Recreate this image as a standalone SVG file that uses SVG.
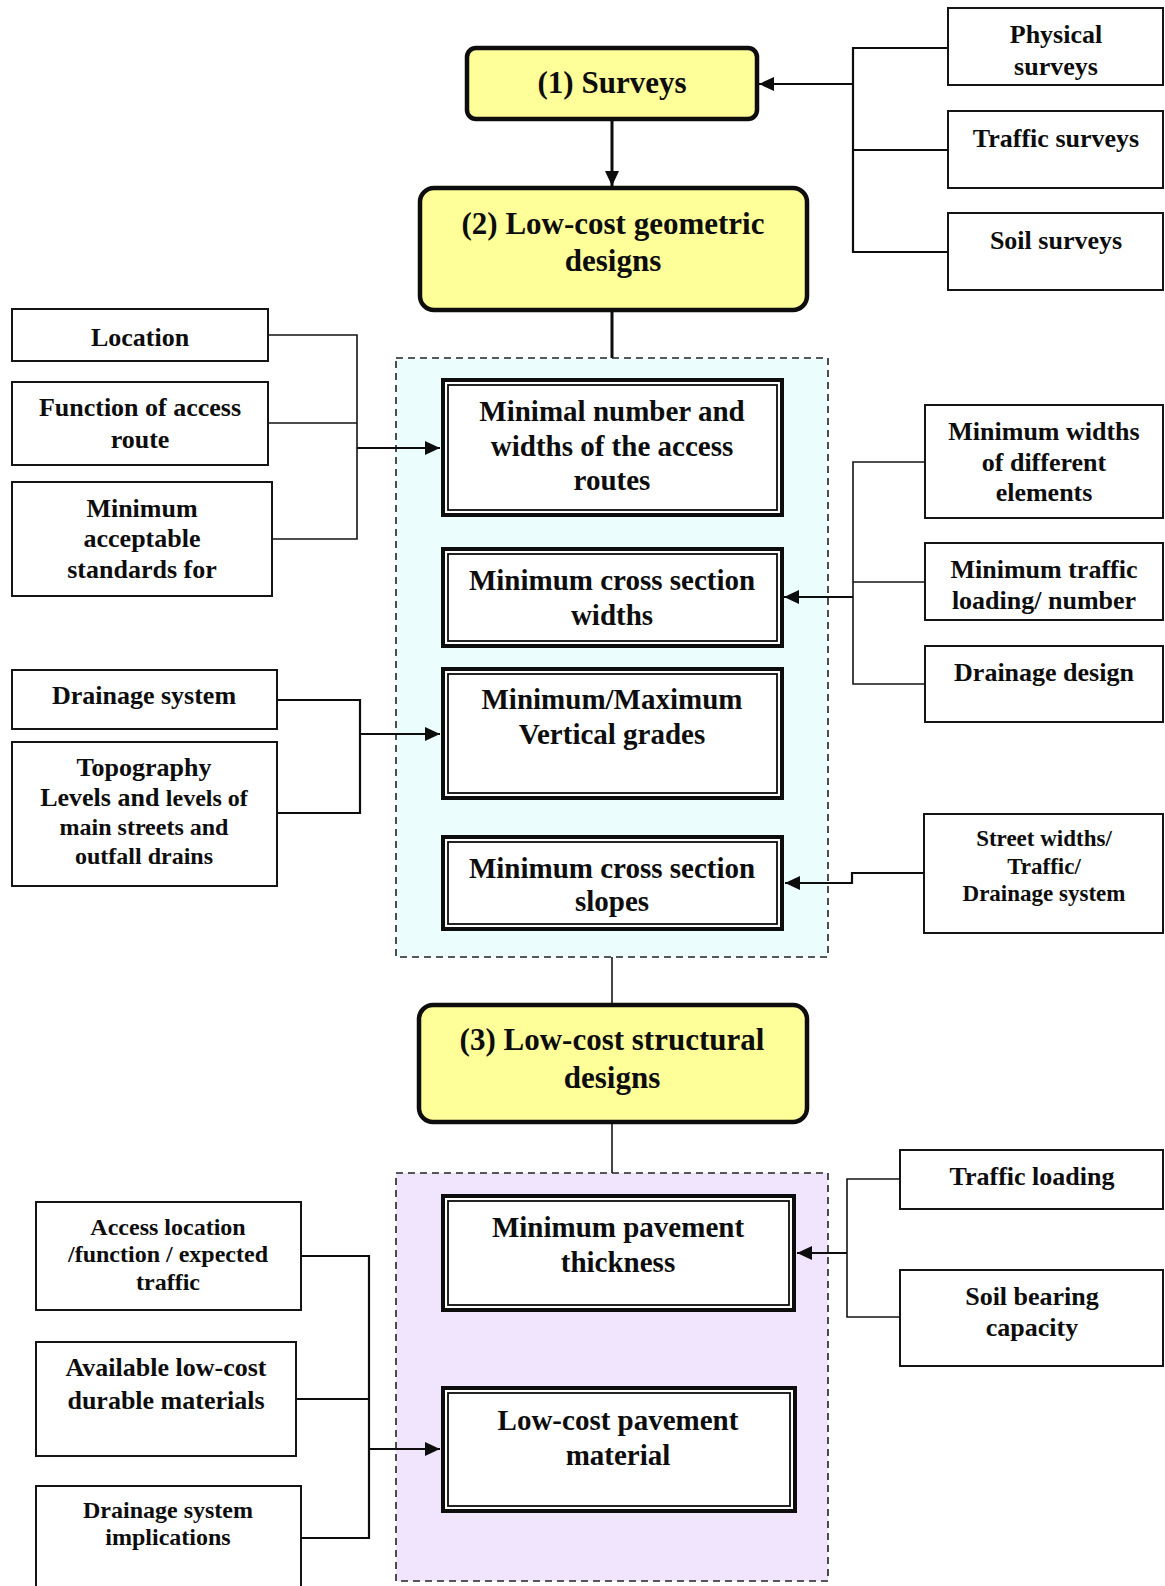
<svg xmlns="http://www.w3.org/2000/svg" width="1165" height="1586" viewBox="0 0 1165 1586">
  <style>
    .bg { fill: #ffffff; }
    .box { fill: #ffffff; stroke: #151515; stroke-width: 2; }
    .stage { fill: #ffff99; stroke: #0d0d0d; stroke-width: 4.5; }
    .dbl-out { fill: #ffffff; stroke: #0d0d0d; stroke-width: 4; }
    .dbl-in { fill: none; stroke: #0d0d0d; stroke-width: 1.8; }
    .zone { stroke: #222; stroke-width: 1.6; stroke-dasharray: 7 5; }
    .zone-geo { fill: #ecfdfd; }
    .zone-str { fill: #f1e5fd; }
    .ln { fill: none; stroke: #151515; stroke-width: 1.6; }
    .ln2 { fill: none; stroke: #0d0d0d; stroke-width: 2.2; }
    .ln3 { fill: none; stroke: #0d0d0d; stroke-width: 3; }
    text { font-family: "Liberation Serif", "Times New Roman", serif; font-weight: bold; fill: #0d0d0d; text-anchor: middle; }
    .t31 { font-size: 31px; }
    .t29 { font-size: 29px; }
    .t26 { font-size: 26px; }
    .t24 { font-size: 24px; }
    .t23 { font-size: 23px; }
  </style>
  <defs>
    <marker id="arrow" markerUnits="userSpaceOnUse" markerWidth="16" markerHeight="14" refX="15" refY="7" orient="auto">
      <path d="M0,0 L15,7 L0,14 z" fill="#0d0d0d"/>
    </marker>
  </defs>

  <rect class="bg" x="0" y="0" width="1165" height="1586"/>

  <!-- dashed grouping zones -->
  <g id="zone-geometric">
    <rect class="zone zone-geo" x="396" y="358" width="432" height="599"/>
  </g>
  <g id="zone-structural">
    <rect class="zone zone-str" x="396" y="1173" width="432" height="408"/>
  </g>

  <!-- connectors -->
  <g id="connectors">
    <!-- survey inputs -->
    <path class="ln2" d="M948,48 H853 V252 H948 M853,150 H948"/>
    <path class="ln2" d="M853,84 H759" marker-end="url(#arrow)"/>
    <path class="ln3" d="M612,119 V186" marker-end="url(#arrow)"/>
    <path class="ln3" d="M612,310 V358"/>
    <!-- access route inputs -->
    <path class="ln" d="M268,335 H357 V539 H272 M268,423 H357"/>
    <path class="ln2" d="M357,448 H440" marker-end="url(#arrow)"/>
    <!-- cross section width inputs -->
    <path class="ln" d="M925,462 H853 V684 H925 M853,582 H925"/>
    <path class="ln2" d="M853,597 H784" marker-end="url(#arrow)"/>
    <!-- vertical grade inputs -->
    <path class="ln2" d="M277,700 H360 V813 H277"/>
    <path class="ln2" d="M360,734 H440" marker-end="url(#arrow)"/>
    <!-- slope input -->
    <path class="ln2" d="M924,873 H852 V883 H785" marker-end="url(#arrow)"/>
    <!-- stage links -->
    <path class="ln" d="M612,957 V1005"/>
    <path class="ln" d="M612,1122 V1173"/>
    <!-- pavement thickness inputs -->
    <path class="ln" d="M900,1179 H847 V1317 H900"/>
    <path class="ln2" d="M847,1253 H797" marker-end="url(#arrow)"/>
    <!-- pavement material inputs -->
    <path class="ln2" d="M301,1256 H369 V1538 H301 M296,1399 H369"/>
    <path class="ln2" d="M369,1449 H440" marker-end="url(#arrow)"/>
  </g>

  <!-- main stages -->
  <g id="stage-surveys">
    <rect class="stage" x="467" y="48" width="290" height="71" rx="9"/>
    <text class="t31" x="612" y="93">(1) Surveys</text>
  </g>
  <g id="stage-geometric">
    <rect class="stage" x="420" y="188" width="387" height="122" rx="14"/>
    <text class="t31" x="613" y="234">(2) Low-cost geometric</text>
    <text class="t31" x="613" y="271">designs</text>
  </g>
  <g id="stage-structural">
    <rect class="stage" x="419" y="1005" width="388" height="117" rx="14"/>
    <text class="t31" x="612" y="1050">(3) Low-cost structural</text>
    <text class="t31" x="612" y="1088">designs</text>
  </g>

  <!-- survey types -->
  <g id="physical-surveys">
    <rect class="box" x="948" y="8" width="215" height="77"/>
    <text class="t26" x="1056" y="43">Physical</text>
    <text class="t26" x="1056" y="75">surveys</text>
  </g>
  <g id="traffic-surveys">
    <rect class="box" x="948" y="111" width="215" height="77"/>
    <text class="t26" x="1056" y="147">Traffic surveys</text>
  </g>
  <g id="soil-surveys">
    <rect class="box" x="948" y="213" width="215" height="77"/>
    <text class="t26" x="1056" y="249">Soil surveys</text>
  </g>

  <!-- geometric design elements -->
  <g id="access-routes">
    <rect class="dbl-out" x="443" y="380" width="339" height="135"/>
    <rect class="dbl-in" x="448" y="385" width="329" height="125"/>
    <text class="t29" x="612" y="421">Minimal number and</text>
    <text class="t29" x="612" y="456">widths of the access</text>
    <text class="t29" x="612" y="490">routes</text>
  </g>
  <g id="cross-section-widths">
    <rect class="dbl-out" x="443" y="549" width="339" height="97"/>
    <rect class="dbl-in" x="448" y="554" width="329" height="87"/>
    <text class="t29" x="612" y="590">Minimum cross section</text>
    <text class="t29" x="612" y="625">widths</text>
  </g>
  <g id="vertical-grades">
    <rect class="dbl-out" x="443" y="669" width="339" height="129"/>
    <rect class="dbl-in" x="448" y="674" width="329" height="119"/>
    <text class="t29" x="612" y="709">Minimum/Maximum</text>
    <text class="t29" x="612" y="744">Vertical grades</text>
  </g>
  <g id="cross-section-slopes">
    <rect class="dbl-out" x="443" y="837" width="339" height="92"/>
    <rect class="dbl-in" x="448" y="842" width="329" height="82"/>
    <text class="t29" x="612" y="878">Minimum cross section</text>
    <text class="t29" x="612" y="911">slopes</text>
  </g>

  <!-- geometric design inputs, left -->
  <g id="location">
    <rect class="box" x="12" y="309" width="256" height="52"/>
    <text class="t26" x="140" y="346">Location</text>
  </g>
  <g id="function-of-access">
    <rect class="box" x="12" y="382" width="256" height="83"/>
    <text class="t26" x="140" y="416">Function of access</text>
    <text class="t26" x="140" y="448">route</text>
  </g>
  <g id="acceptable-standards">
    <rect class="box" x="12" y="482" width="260" height="114"/>
    <text class="t26" x="142" y="517">Minimum</text>
    <text class="t26" x="142" y="547">acceptable</text>
    <text class="t26" x="142" y="578">standards for</text>
  </g>
  <g id="drainage-system">
    <rect class="box" x="12" y="670" width="265" height="59"/>
    <text class="t26" x="144" y="704">Drainage system</text>
  </g>
  <g id="topography">
    <rect class="box" x="12" y="742" width="265" height="144"/>
    <text class="t26" x="144" y="776">Topography</text>
    <text x="144" y="806"><tspan class="t26">Levels and </tspan><tspan class="t24">levels of</tspan></text>
    <text class="t24" x="144" y="835">main streets and</text>
    <text class="t24" x="144" y="864">outfall drains</text>
  </g>

  <!-- geometric design inputs, right -->
  <g id="element-widths">
    <rect class="box" x="925" y="405" width="238" height="113"/>
    <text class="t26" x="1044" y="440">Minimum widths</text>
    <text class="t26" x="1044" y="471">of different</text>
    <text class="t26" x="1044" y="501">elements</text>
  </g>
  <g id="traffic-loading-number">
    <rect class="box" x="925" y="543" width="238" height="77"/>
    <text class="t26" x="1044" y="578">Minimum traffic</text>
    <text class="t26" x="1044" y="609">loading/ number</text>
  </g>
  <g id="drainage-design">
    <rect class="box" x="925" y="646" width="238" height="76"/>
    <text class="t26" x="1044" y="681">Drainage design</text>
  </g>
  <g id="street-widths">
    <rect class="box" x="924" y="814" width="239" height="119"/>
    <text class="t23" x="1044" y="846">Street widths/</text>
    <text class="t23" x="1044" y="874">Traffic/</text>
    <text class="t23" x="1044" y="901">Drainage system</text>
  </g>

  <!-- structural design elements -->
  <g id="pavement-thickness">
    <rect class="dbl-out" x="443" y="1196" width="351" height="114"/>
    <rect class="dbl-in" x="448" y="1201" width="341" height="104"/>
    <text class="t29" x="618" y="1237">Minimum pavement</text>
    <text class="t29" x="618" y="1272">thickness</text>
  </g>
  <g id="pavement-material">
    <rect class="dbl-out" x="443" y="1388" width="352" height="123"/>
    <rect class="dbl-in" x="448" y="1393" width="342" height="113"/>
    <text class="t29" x="618" y="1430">Low-cost pavement</text>
    <text class="t29" x="618" y="1465">material</text>
  </g>

  <!-- structural design inputs -->
  <g id="traffic-loading">
    <rect class="box" x="900" y="1150" width="263" height="59"/>
    <text class="t26" x="1032" y="1185">Traffic loading</text>
  </g>
  <g id="soil-bearing">
    <rect class="box" x="900" y="1270" width="263" height="96"/>
    <text class="t26" x="1032" y="1305">Soil bearing</text>
    <text class="t26" x="1032" y="1336">capacity</text>
  </g>
  <g id="access-traffic">
    <rect class="box" x="36" y="1202" width="265" height="108"/>
    <text class="t24" x="168" y="1235">Access location</text>
    <text class="t24" x="168" y="1262">/function / expected</text>
    <text class="t24" x="168" y="1290">traffic</text>
  </g>
  <g id="durable-materials">
    <rect class="box" x="36" y="1342" width="260" height="114"/>
    <text class="t26" x="166" y="1376">Available low-cost</text>
    <text class="t26" x="166" y="1409">durable materials</text>
  </g>
  <g id="drainage-implications">
    <rect class="box" x="36" y="1486" width="265" height="110"/>
    <text class="t24" x="168" y="1518">Drainage system</text>
    <text class="t24" x="168" y="1545">implications</text>
  </g>
</svg>
